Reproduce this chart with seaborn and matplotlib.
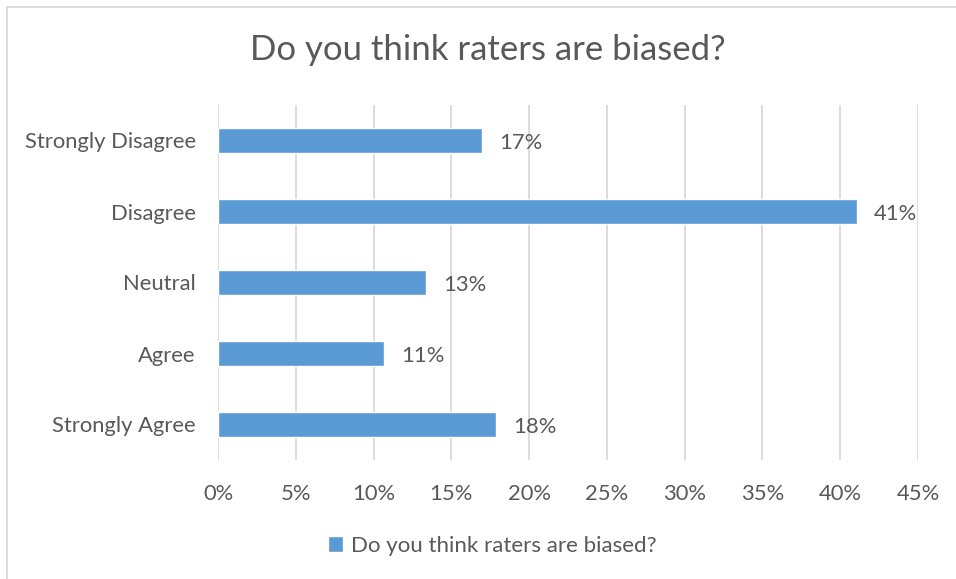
import matplotlib
matplotlib.use("Agg")
import matplotlib.pyplot as plt
from matplotlib.lines import Line2D
from matplotlib.ticker import PercentFormatter, MultipleLocator
import seaborn as sns
import pandas as pd

categories = ["Strongly Disagree", "Disagree", "Neutral", "Agree", "Strongly Agree"]
values = [17.0, 41.1, 13.4, 10.7, 17.9]
labels = ["17%", "41%", "13%", "11%", "18%"]
series_name = "Do you think raters are biased?"

sns.set_theme(style="white")
plt.rcParams["font.family"] = ["Lato", "DejaVu Sans"]

text_color = "#595959"
bar_color = "#5B9BD5"
grid_color = "#D9D9D9"

df = pd.DataFrame({"category": categories, "value": values})

W, H = 956, 579
fig = plt.figure(figsize=(W / 100, H / 100), dpi=100)
ax = fig.add_axes([218 / W, 1 - 460 / H, 700 / W, 355 / H])

sns.barplot(data=df, x="value", y="category", order=categories, color=bar_color,
            width=0.35, saturation=1, ax=ax, label=series_name)

ax.set_xlim(0, 45)
ax.xaxis.set_major_locator(MultipleLocator(5))
ax.xaxis.set_major_formatter(PercentFormatter(decimals=0))
ax.grid(axis="x", color=grid_color, linewidth=1.3)
ax.set_axisbelow(True)
for s in ax.spines.values():
    s.set_visible(False)
ax.set_xlabel("")
ax.set_ylabel("")
ax.tick_params(axis="x", length=0, pad=17, labelsize=15.8, labelcolor=text_color)
ax.tick_params(axis="y", length=0, pad=16, labelsize=15.8, labelcolor=text_color)

for i, (v, lab) in enumerate(zip(values, labels)):
    ax.annotate(lab, xy=(v, i), xytext=(12, -1.5), textcoords="offset points",
                ha="left", va="center", fontsize=15.8, color=text_color)

fig.text(488 / W, 1 - 50 / H, series_name, ha="center", va="center",
         fontsize=25, color=text_color)

handles, lbls = ax.get_legend_handles_labels()
if ax.get_legend() is not None:
    ax.get_legend().remove()
fig.legend(handles[:1], lbls[:1], loc="center", bbox_to_anchor=(492 / W, 1 - 546 / H),
           frameon=False, fontsize=16, labelcolor=text_color, handlelength=0.7,
           handleheight=0.7, handletextpad=0.35)

border = "#D9D9D9"
fig.add_artist(Line2D([7 / W, 7 / W], [0, 1 - 7 / H], color=border, linewidth=1.3))
fig.add_artist(Line2D([7 / W, 1], [1 - 7 / H, 1 - 7 / H], color=border, linewidth=1.3))

fig.savefig("out.png", dpi=100, facecolor="white")
